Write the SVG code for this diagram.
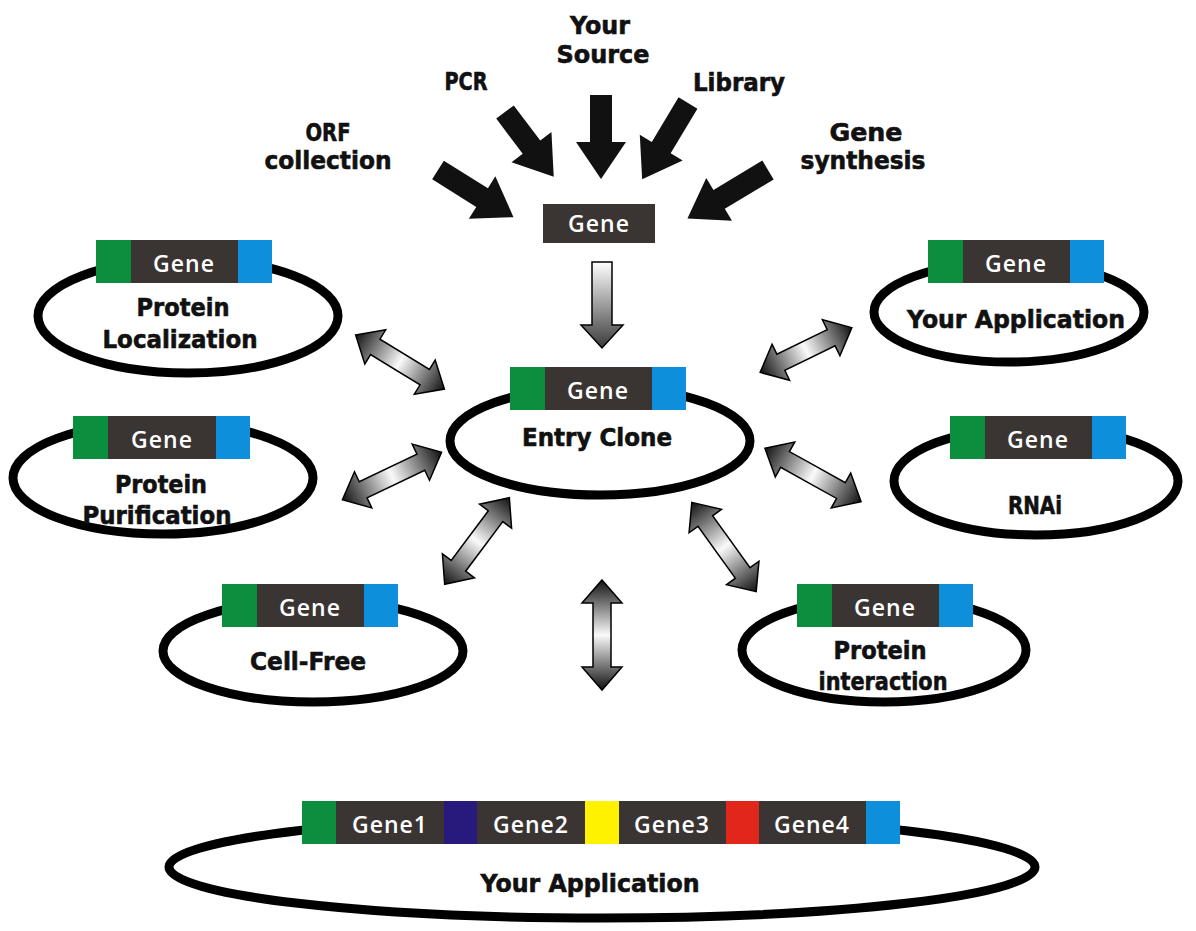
<svg xmlns="http://www.w3.org/2000/svg" width="1196" height="931" viewBox="0 0 1196 931">
<defs>
<linearGradient id="dbl" x1="0" y1="0" x2="1" y2="0">
<stop offset="0" stop-color="#111"/><stop offset="0.5" stop-color="#fafafa"/><stop offset="1" stop-color="#111"/>
</linearGradient>
<linearGradient id="down" x1="0" y1="0" x2="0" y2="1">
<stop offset="0" stop-color="#ffffff"/><stop offset="1" stop-color="#3a3a3a"/>
</linearGradient>
</defs>
<style>
.ring{fill:#fff;stroke:#000;stroke-width:9}
.g{fill:#0b8f3f}.b{fill:#0d8fdc}.d{fill:#3a3533}.n{fill:#271a7c}.y{fill:#fff200}.r{fill:#e1261c}
.gt{font-family:"Open Sans","DejaVu Sans",sans-serif;font-weight:600;font-size:23px;fill:#fff;text-anchor:middle;letter-spacing:1px}
.lb{font-family:"DejaVu Sans","Liberation Sans",sans-serif;font-weight:bold;font-size:24px;fill:#111;stroke:#111;stroke-width:0.6;text-anchor:middle}
.blk{fill:#111}
.dbl{fill:url(#dbl);stroke:#000;stroke-width:1.5}
</style>
<rect width="1196" height="931" fill="#fff"/>

<g id="connectors">
<path class="blk" transform="translate(438,170) rotate(32)" d="M0 -11 L52 -11 L52 -25 L89 0 L52 25 L52 11 L0 11 Z"/>
<path class="blk" transform="translate(505,112) rotate(53)" d="M0 -11 L44 -11 L44 -25 L81 0 L44 25 L44 11 L0 11 Z"/>
<path class="blk" transform="translate(601,95) rotate(90)" d="M0 -11 L47 -11 L47 -25 L84 0 L47 25 L47 11 L0 11 Z"/>
<path class="blk" transform="translate(688,103) rotate(121)" d="M0 -11 L52 -11 L52 -25 L89 0 L52 25 L52 11 L0 11 Z"/>
<path class="blk" transform="translate(768,170) rotate(149)" d="M0 -11 L57 -11 L57 -25 L94 0 L57 25 L57 11 L0 11 Z"/>
<path d="M592 262 L612 262 L612 325 L623 325 L602 348 L581 325 L592 325 Z" fill="url(#down)" stroke="#000" stroke-width="1.5"/>
<path class="dbl" transform="translate(400,362) rotate(31.4)" d="M-52 0 L-29 -20 L-29 -9 L29 -9 L29 -20 L52 0 L29 20 L29 9 L-29 9 L-29 20 Z"/>
<path class="dbl" transform="translate(392,476) rotate(-25.6)" d="M-55 0 L-32 -20 L-32 -9 L32 -9 L32 -20 L55 0 L32 20 L32 9 L-32 9 L-32 20 Z"/>
<path class="dbl" transform="translate(477,541) rotate(-53.2)" d="M-54 0 L-31 -20 L-31 -9 L31 -9 L31 -20 L54 0 L31 20 L31 9 L-31 9 L-31 20 Z"/>
<path class="dbl" transform="translate(602,635) rotate(90)" d="M-55 0 L-32 -20 L-32 -9 L32 -9 L32 -20 L55 0 L32 20 L32 9 L-32 9 L-32 20 Z"/>
<path class="dbl" transform="translate(724,547) rotate(54.2)" d="M-55 0 L-32 -20 L-32 -9 L32 -9 L32 -20 L55 0 L32 20 L32 9 L-32 9 L-32 20 Z"/>
<path class="dbl" transform="translate(813,475) rotate(29.1)" d="M-55 0 L-32 -20 L-32 -9 L32 -9 L32 -20 L55 0 L32 20 L32 9 L-32 9 L-32 20 Z"/>
<path class="dbl" transform="translate(806,350) rotate(-26)" d="M-51 0 L-28 -20 L-28 -9 L28 -9 L28 -20 L51 0 L28 20 L28 9 L-28 9 L-28 20 Z"/>
</g>

<g id="sources">
<text class="lb" x="600" y="34" textLength="60" lengthAdjust="spacingAndGlyphs">Your</text>
<text class="lb" x="603" y="63" textLength="93" lengthAdjust="spacingAndGlyphs">Source</text>
<text class="lb" x="466" y="90" textLength="43" lengthAdjust="spacingAndGlyphs">PCR</text>
<text class="lb" x="739" y="91" textLength="92" lengthAdjust="spacingAndGlyphs">Library</text>
<text class="lb" x="328" y="141" textLength="45" lengthAdjust="spacingAndGlyphs">ORF</text>
<text class="lb" x="328" y="169" textLength="127" lengthAdjust="spacingAndGlyphs">collection</text>
<text class="lb" x="866" y="141" textLength="73" lengthAdjust="spacingAndGlyphs">Gene</text>
<text class="lb" x="863" y="169" textLength="125" lengthAdjust="spacingAndGlyphs">synthesis</text>
</g>

<g id="gene">
<rect class="d" x="543" y="204" width="112" height="39"/>
<text class="gt" x="599" y="232">Gene</text>
</g>

<g id="protein-localization">
<ellipse class="ring" cx="188" cy="316" rx="150" ry="57"/>
<rect class="g" x="96" y="240" width="35" height="43"/><rect class="d" x="131" y="240" width="107" height="43"/><rect class="b" x="238" y="240" width="34" height="43"/>
<text class="gt" x="184" y="272">Gene</text>
<text class="lb" x="183" y="316" textLength="93" lengthAdjust="spacingAndGlyphs">Protein</text>
<text class="lb" x="180" y="348" textLength="155" lengthAdjust="spacingAndGlyphs">Localization</text>
</g>

<g id="protein-purification">
<ellipse class="ring" cx="163" cy="478" rx="150" ry="56"/>
<rect class="g" x="73" y="416" width="35" height="43"/><rect class="d" x="108" y="416" width="108" height="43"/><rect class="b" x="216" y="416" width="34" height="43"/>
<text class="gt" x="162" y="448">Gene</text>
<text class="lb" x="161" y="493" textLength="92" lengthAdjust="spacingAndGlyphs">Protein</text>
<text class="lb" x="157" y="524" textLength="149" lengthAdjust="spacingAndGlyphs">Purification</text>
</g>

<g id="cell-free">
<ellipse class="ring" cx="313" cy="651" rx="150" ry="51"/>
<rect class="g" x="222" y="584" width="35" height="43"/><rect class="d" x="257" y="584" width="107" height="43"/><rect class="b" x="364" y="584" width="34" height="43"/>
<text class="gt" x="310" y="616">Gene</text>
<text class="lb" x="308" y="670" textLength="116" lengthAdjust="spacingAndGlyphs">Cell-Free</text>
</g>

<g id="entry-clone">
<ellipse class="ring" cx="600" cy="441" rx="150" ry="54"/>
<rect class="g" x="510" y="367" width="35" height="43"/><rect class="d" x="545" y="367" width="107" height="43"/><rect class="b" x="652" y="367" width="34" height="43"/>
<text class="gt" x="598" y="399">Gene</text>
<text class="lb" x="597" y="446" textLength="150" lengthAdjust="spacingAndGlyphs">Entry Clone</text>
</g>

<g id="your-application-right">
<ellipse class="ring" cx="1009" cy="312" rx="135" ry="50"/>
<rect class="g" x="928" y="240" width="35" height="43"/><rect class="d" x="963" y="240" width="107" height="43"/><rect class="b" x="1070" y="240" width="34" height="43"/>
<text class="gt" x="1016" y="272">Gene</text>
<text class="lb" x="1016" y="328" textLength="218" lengthAdjust="spacingAndGlyphs">Your Application</text>
</g>

<g id="rnai">
<ellipse class="ring" cx="1036" cy="481" rx="142" ry="54"/>
<rect class="g" x="950" y="416" width="35" height="43"/><rect class="d" x="985" y="416" width="107" height="43"/><rect class="b" x="1092" y="416" width="34" height="43"/>
<text class="gt" x="1038" y="448">Gene</text>
<text class="lb" x="1035" y="514" textLength="54" lengthAdjust="spacingAndGlyphs">RNAi</text>
</g>

<g id="protein-interaction">
<ellipse class="ring" cx="884" cy="650" rx="142" ry="52"/>
<rect class="g" x="797" y="584" width="35" height="43"/><rect class="d" x="832" y="584" width="107" height="43"/><rect class="b" x="939" y="584" width="34" height="43"/>
<text class="gt" x="885" y="616">Gene</text>
<text class="lb" x="880" y="659" textLength="93" lengthAdjust="spacingAndGlyphs">Protein</text>
<text class="lb" x="883" y="690" textLength="129" lengthAdjust="spacingAndGlyphs">interaction</text>
</g>

<g id="your-application-bottom">
<ellipse class="ring" cx="602" cy="867" rx="433" ry="51"/>
<rect class="g" x="302" y="801" width="34" height="43"/>
<rect class="d" x="336" y="801" width="108" height="43"/>
<rect class="n" x="444" y="801" width="33" height="43"/>
<rect class="d" x="477" y="801" width="108" height="43"/>
<rect class="y" x="585" y="801" width="34" height="43"/>
<rect class="d" x="619" y="801" width="107" height="43"/>
<rect class="r" x="726" y="801" width="33" height="43"/>
<rect class="d" x="759" y="801" width="107" height="43"/>
<rect class="b" x="866" y="801" width="34" height="43"/>
<text class="gt" x="390" y="833">Gene1</text>
<text class="gt" x="531" y="833">Gene2</text>
<text class="gt" x="672" y="833">Gene3</text>
<text class="gt" x="812" y="833">Gene4</text>
<text class="lb" x="590" y="892" textLength="219" lengthAdjust="spacingAndGlyphs">Your Application</text>
</g>
</svg>
